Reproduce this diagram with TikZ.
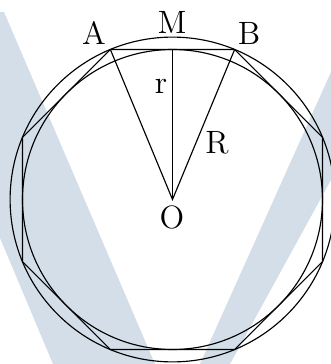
\documentclass[tikz,border=0pt]{standalone}
\usetikzlibrary{calc}
\definecolor{wmark}{RGB}{211,222,232}
\begin{document}
\begin{tikzpicture}[x=0.35pt,y=0.35pt,
  lbl/.style={inner sep=0pt, font=\fontsize{11.3pt}{13pt}\selectfont},
  geo/.style={draw=black, line width=0.4pt}]
\useasboundingbox (0,0) rectangle (331,364);
% watermark
\fill[wmark] (0,352) -- (4,352) -- (155,0) -- (53,0) -- (0,126) -- cycle;
\fill[wmark] (331,292) -- (200,0) -- (230,0) -- (331,184) -- cycle;
% geometry
\coordinate (O) at (172.5,164.5);
\coordinate (A) at ($(O)+(112.5:162.4)$);
\coordinate (B) at ($(O)+(67.5:162.4)$);
\coordinate (M) at ($(O)+(90:150)$);
\draw[geo] (O) circle[radius=162.4];
\draw[geo] (O) circle[radius=150];
\draw[geo] ($(O)+(22.5:162.4)$)
  \foreach \a in {67.5,112.5,157.5,202.5,247.5,292.5,337.5} { -- ($(O)+(\a:162.4)$) } -- cycle;
\draw[geo] (A) -- (O) -- (B);
\draw[geo] (O) -- (M);
% labels
\node[lbl] (lA) at (94,331) {A};
\node[lbl] (lM) at (172,342) {M};
\node[lbl] (lB) at (249,331) {B};
\node[lbl] (lr) at (161,278) {r};
\node[lbl] (lR) at (217,221) {R};
\node[lbl] (lO) at (172,147) {O};
\end{tikzpicture}
\end{document}
